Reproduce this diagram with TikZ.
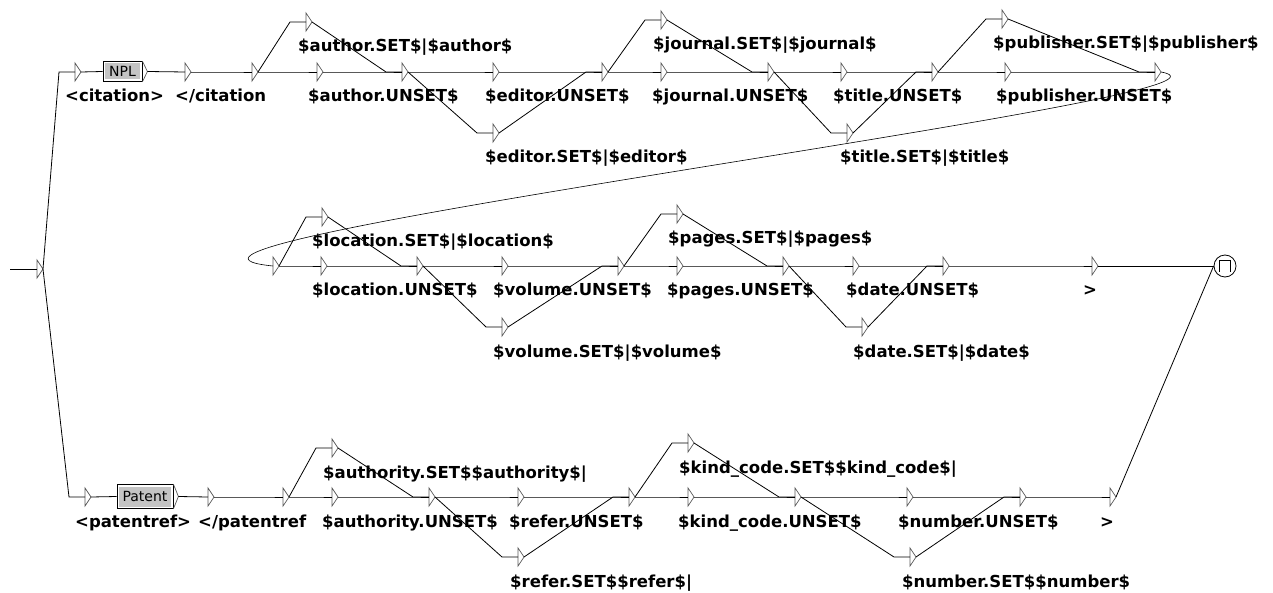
\documentclass[tikz,border=0pt]{standalone}
\usepackage{fontspec}
\setmainfont{DejaVu Sans}
\usetikzlibrary{calc}
\definecolor{boxgray}{RGB}{196,196,196}
\definecolor{tricol}{RGB}{90,90,90}
\tikzset{
  tri/.style={inner sep=0pt, outer sep=0pt, minimum width=6pt, minimum height=18pt},
  tribd/.style={draw=tricol, line width=0.7pt, line join=miter},
  wire/.style={line width=0.8pt, black},
  lab/.style={anchor=base west, inner sep=0pt, font=\bfseries\fontsize{16.5}{18}\selectfont},
  gbox/.style={draw=black, line width=0.8pt, fill=white, inner sep=0pt, font=\fontsize{14}{15}\selectfont,
    path picture={\fill[boxgray] ([shift={(2pt,-2pt)}]path picture bounding box.north west) rectangle ([shift={(-2pt,2pt)}]path picture bounding box.south east);}},
}
\newcommand\tri[3]{\node[tri] (#1) at (#2+3,#3) {}; \draw[tribd] (#1.north west) -- (#1.east) -- (#1.south west) -- cycle;}
\newcommand\conn[2]{\draw[wire] (#1.east) -- ([xshift=-16pt]#2.west) -- (#2.west);}
\newcommand\lab[4]{\node[lab] (#1) at (#2,#3+30) {#4};}
\begin{document}
\begin{tikzpicture}[x=1pt,y=-1pt]
\useasboundingbox (0,0) rectangle (1273,593);
\clip (0,0) rectangle (1273,593);
% initial state
\coordinate (start) at (10,269);
\tri{init}{37}{269}
\draw[wire] (start) -- (init.west);
% ---- top row
\tri{t1}{75}{72}
\node[gbox, minimum width=39pt, minimum height=20pt] (npl) at (122.5,71.5) {NPL};
\draw[tribd] (npl.north east) -- ([xshift=5pt]npl.east) -- (npl.south east);
\tri{t2}{185}{72}
\tri{t3}{252}{72}
\tri{t4}{306}{22}
\tri{t5}{317}{72}
\tri{t6}{402}{72}
\tri{t7}{493}{72}
\tri{t8}{493}{133}
\tri{t9}{602}{72}
\tri{t10}{661}{20}
\tri{t11}{661}{72}
\tri{t12}{768}{72}
\tri{t13}{841}{72}
\tri{t14}{847}{133}
\tri{t15}{932}{72}
\tri{t16}{1002}{19}
\tri{t17}{1005}{72}
\tri{t18}{1155}{72}
% ---- middle row
\tri{t19}{273}{266}
\tri{t20}{322}{217}
\tri{t21}{321}{266}
\tri{t22}{417}{266}
\tri{t23}{502}{266}
\tri{t24}{502}{327}
\tri{t25}{618}{266}
\tri{t26}{677}{214}
\tri{t27}{677}{266}
\tri{t28}{783}{266}
\tri{t29}{853}{266}
\tri{t30}{862}{327}
\tri{t31}{943}{266}
\tri{t32}{1092}{266}
\node[circle, draw, line width=0.8pt, minimum size=22pt, inner sep=0pt] (fin) at (1225,266) {};
\draw[line width=0.8pt] ([shift={(-5.5pt,-6pt)}]fin.center) -- ++(0,12pt) -- ++(11pt,0) -- ++(0,-12pt);
% ---- bottom row
\tri{t33}{85}{497}
\node[gbox, minimum width=56pt, minimum height=24pt] (pat) at (145,496.5) {Patent};
\draw[tribd] (pat.north east) -- ([xshift=5pt]pat.east) -- (pat.south east);
\tri{t34}{208}{497}
\tri{t35}{283}{497}
\tri{t36}{332}{448}
\tri{t37}{332}{497}
\tri{t38}{429}{497}
\tri{t39}{518}{497}
\tri{t40}{518}{557}
\tri{t41}{629}{497}
\tri{t42}{688}{443}
\tri{t43}{688}{497}
\tri{t44}{795}{497}
\tri{t45}{907}{497}
\tri{t46}{910}{557}
\tri{t47}{1020}{497}
\tri{t48}{1110}{497}
% ---- connectors
\conn{init}{t1}
\conn{init}{t33}
\draw[wire] (t1.east) -- (npl.west);
\draw[wire] ([xshift=5pt]npl.east) -- (t2.west);
\conn{t2}{t3}
\conn{t3}{t4}\conn{t3}{t5}
\conn{t4}{t6}\conn{t5}{t6}
\conn{t6}{t7}\conn{t6}{t8}
\conn{t7}{t9}\conn{t8}{t9}
\conn{t9}{t10}\conn{t9}{t11}
\conn{t10}{t12}\conn{t11}{t12}
\conn{t12}{t13}\conn{t12}{t14}
\conn{t13}{t15}\conn{t14}{t15}
\conn{t15}{t16}\conn{t15}{t17}
\conn{t16}{t18}\conn{t17}{t18}
\draw[line width=0.6pt] (t18.east) .. controls (1290,95) and (60,245) .. (t19.west);
\conn{t19}{t20}\conn{t19}{t21}
\conn{t20}{t22}\conn{t21}{t22}
\conn{t22}{t23}\conn{t22}{t24}
\conn{t23}{t25}\conn{t24}{t25}
\conn{t25}{t26}\conn{t25}{t27}
\conn{t26}{t28}\conn{t27}{t28}
\conn{t28}{t29}\conn{t28}{t30}
\conn{t29}{t31}\conn{t30}{t31}
\conn{t31}{t32}
\draw[wire] (t32.east) -- (fin.west);
\draw[wire] (t33.east) -- (pat.west);
\draw[wire] ([xshift=5pt]pat.east) -- (t34.west);
\conn{t34}{t35}
\conn{t35}{t36}\conn{t35}{t37}
\conn{t36}{t38}\conn{t37}{t38}
\conn{t38}{t39}\conn{t38}{t40}
\conn{t39}{t41}\conn{t40}{t41}
\conn{t41}{t42}\conn{t41}{t43}
\conn{t42}{t44}\conn{t43}{t44}
\conn{t44}{t45}\conn{t44}{t46}
\conn{t45}{t47}\conn{t46}{t47}
\conn{t47}{t48}
\draw[wire] (t48.east) -- (fin.west);
% ---- labels
\lab{l1}{65}{72}{<citation>}
\lab{l2}{175}{72}{</citation}
\lab{l4}{298}{22}{\$author.SET\$|\$author\$}
\lab{l5}{308}{72}{\$author.UNSET\$}
\lab{l7}{485}{72}{\$editor.UNSET\$}
\lab{l8}{485}{133}{\$editor.SET\$|\$editor\$}
\lab{l10}{653}{20}{\$journal.SET\$|\$journal\$}
\lab{l11}{652}{72}{\$journal.UNSET\$}
\lab{l13}{833}{72}{\$title.UNSET\$}
\lab{l14}{840}{133}{\$title.SET\$|\$title\$}
\lab{l16}{993}{19}{\$publisher.SET\$|\$publisher\$}
\lab{l17}{996}{72}{\$publisher.UNSET\$}
\lab{l20}{312}{217}{\$location.SET\$|\$location\$}
\lab{l21}{312}{266}{\$location.UNSET\$}
\lab{l23}{493}{266}{\$volume.UNSET\$}
\lab{l24}{493}{327}{\$volume.SET\$|\$volume\$}
\lab{l26}{668}{214}{\$pages.SET\$|\$pages\$}
\lab{l27}{667}{266}{\$pages.UNSET\$}
\lab{l29}{846}{266}{\$date.UNSET\$}
\lab{l30}{853}{327}{\$date.SET\$|\$date\$}
\lab{l32}{1083}{266}{>}
\lab{l33}{75}{497}{<patentref>}
\lab{l34}{198}{497}{</patentref}
\lab{l36}{323}{448}{\$authority.SET\$\$authority\$|}
\lab{l37}{322}{497}{\$authority.UNSET\$}
\lab{l39}{509}{497}{\$refer.UNSET\$}
\lab{l40}{510}{557}{\$refer.SET\$\$refer\$|}
\lab{l42}{679}{443}{\$kind\_code.SET\$\$kind\_code\$|}
\lab{l43}{678}{497}{\$kind\_code.UNSET\$}
\lab{l45}{898}{497}{\$number.UNSET\$}
\lab{l46}{902}{557}{\$number.SET\$\$number\$}
\lab{l48}{1100}{497}{>}
\end{tikzpicture}
\end{document}
